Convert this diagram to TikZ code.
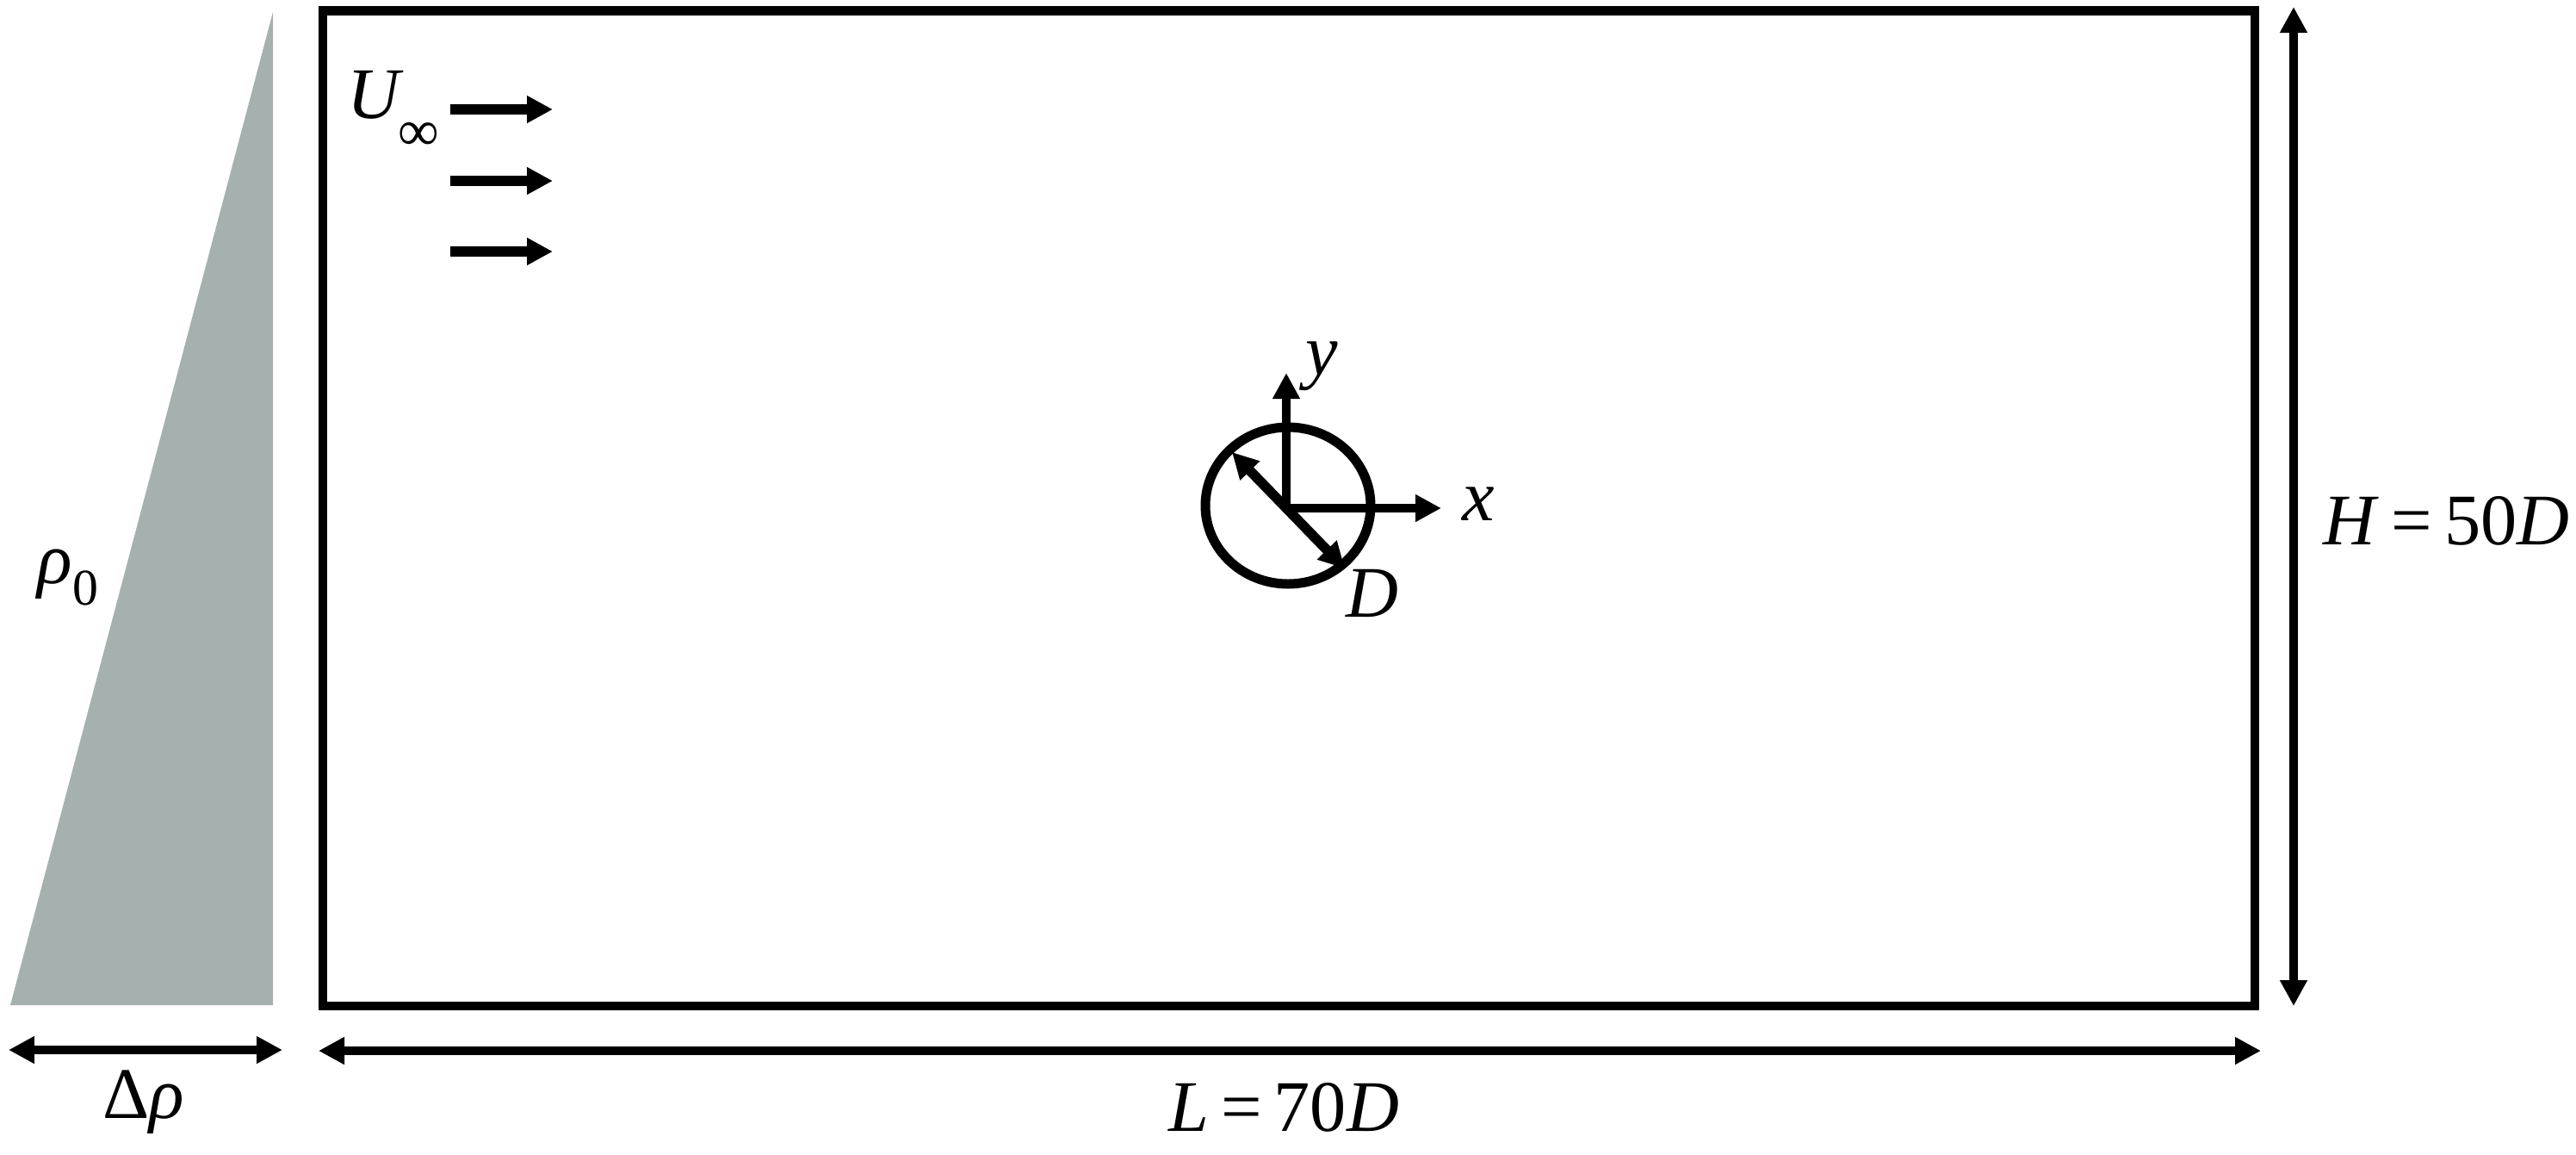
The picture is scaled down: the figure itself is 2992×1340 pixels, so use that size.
\documentclass[tikz,border=0pt]{standalone}
\usepackage{fontspec}
\setmainfont{Liberation Serif}
\usetikzlibrary{arrows.meta,shapes.geometric}
\definecolor{wedge}{RGB}{166,176,175}
\begin{document}
\begin{tikzpicture}[x=0.1mm,y=-0.1mm,
  dim/.style={line width=1mm, {Triangle[length=3mm,width=3mm]}-{Triangle[length=3mm,width=3mm]}},
  arr/.style={line width=1mm, -{Triangle[length=3mm,width=3mm]}},
  flow/.style={line width=1.25mm, -{Triangle[length=3mm,width=3mm]}},
  lbl/.style={inner sep=0pt, font=\fontsize{24}{28}\selectfont}]
\useasboundingbox (0,0) rectangle (2992,1340);
% density wedge
\fill[wedge] (12,1167) -- (317,1167) -- (317,14) -- cycle;
% domain
\node[draw, line width=1.05mm, minimum width=224.4mm, minimum height=115.55mm,
      inner sep=0pt, outer sep=0pt, anchor=north west] (domain) at (375,12.5) {};
% cylinder
\node[draw, ellipse, line width=1.1mm, minimum width=19.2mm, minimum height=18.2mm,
      inner sep=0pt, outer sep=0pt] (cyl) at (1496,587) {};
\coordinate (O) at (1494,590);
\coordinate (ytip) at (1494,433);
\coordinate (xtip) at (1674,590);
\coordinate (d1) at (1431,525);
\coordinate (d2) at (1562,660);
\draw[arr] (O) -- (ytip);
\draw[arr] (O) -- (xtip);
\draw[dim, line width=1.15mm] (d1) -- (d2);
% flow arrows
\foreach \i/\yy in {1/127,2/210,3/292}{
  \coordinate (fa\i) at (523,\yy);
  \coordinate (fb\i) at (642,\yy);
  \draw[flow] (fa\i) -- (fb\i);
}
% dimension arrows
\coordinate (h1) at (2664,8);
\coordinate (h2) at (2664,1168);
\draw[dim] (h1) -- (h2);
\coordinate (l1) at (370,1220);
\coordinate (l2) at (2626,1220);
\draw[dim] (l1) -- (l2);
\coordinate (r1) at (10,1219);
\coordinate (r2) at (328,1219);
\draw[dim] (r1) -- (r2);
% labels
\node[lbl, anchor=base west] (Hlab) at (2698,632) {\textit{H}\,=\,50\textit{D}};
\node[lbl, anchor=base] (Llab) at (1491,1313) {\textit{L}\,=\,70\textit{D}};
\node[lbl, anchor=base] (drho) at (167,1298) {Δ\textit{ρ}};
\node[lbl, anchor=base west] (rho0) at (43,677) {\textit{ρ}\raisebox{-0.3em}{\fontsize{17}{20}\selectfont 0}};
\node[lbl, anchor=base west] (Uinf) at (403,137) {\textit{U}\kern-0.08em\raisebox{-0.45em}{\fontsize{19}{22}\selectfont ∞}};
\node[lbl] (ylab) at (1535,425) {\textit{y}};
\node[lbl] (xlab) at (1717,585) {\textit{x}};
\node[lbl, anchor=base west] (Dlab) at (1563,716) {\textit{D}};
\end{tikzpicture}
\end{document}
